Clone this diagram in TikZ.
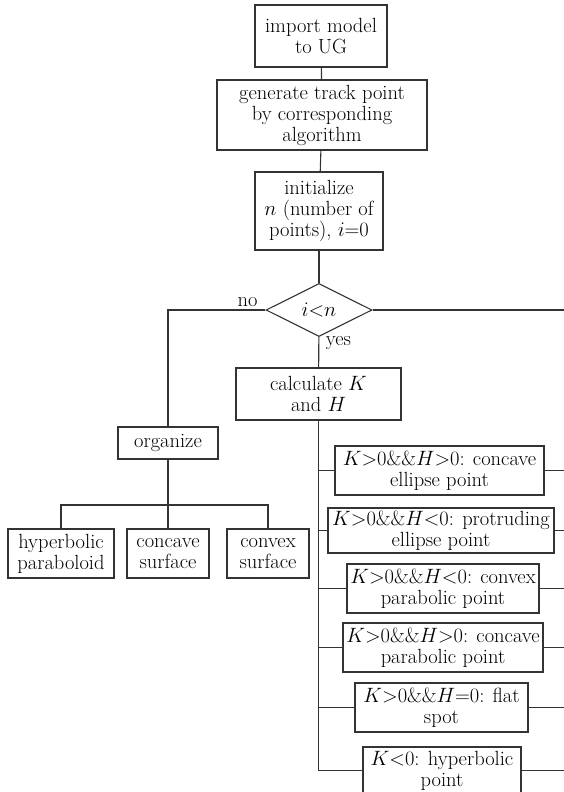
\documentclass[tikz,border=0pt]{standalone}
\usepackage{tikz}
\usetikzlibrary{positioning,shapes.geometric}
\usepackage{amsmath}

\begin{document}
\begin{tikzpicture}[x=1pt,y=-1pt,
  every path/.style={line width=1.1pt, color=black!80},
  box/.style={draw, align=center, inner sep=0pt, text=black,
    font=\fontsize{20.5}{21}\selectfont},
  lbl/.style={text=black, font=\fontsize{20.5}{21}\selectfont}]
\useasboundingbox (0,0) rectangle (564,792);

\node[box, minimum width=132, minimum height=62] (imp) at (321,36) {import model\\to UG};
\node[box, minimum width=210, minimum height=70] (gen) at (322,115) {generate track point\\by corresponding\\algorithm};
\node[box, minimum width=128, minimum height=78] (init) at (319,211) {initialize\\$n$ (number of\\points), $i$=0};
\node[draw, diamond, aspect=2, inner sep=0pt, minimum width=106, minimum height=53, text=black,
  font=\fontsize{20.5}{21}\selectfont] (dec) at (319,310) {$i$<$n$};
\node[box, minimum width=165, minimum height=52] (calc) at (318.5,394) {calculate $K$\\and $H$};
\node[box, minimum width=100, minimum height=32] (org) at (168,443) {organize};

% left leaves
\node[box, minimum width=106, minimum height=49] (hp) at (61,553.5) {hyperbolic\\paraboloid};
\node[box, minimum width=82, minimum height=49] (cs) at (168,553.5) {concave\\surface};
\node[box, minimum width=82, minimum height=49] (cv) at (268,553.5) {convex\\surface};

% right leaves
\node[box, minimum width=209, minimum height=49] (r1) at (439.5,470.5) {$K$>0\&\&$H$>0: concave\\ellipse point};
\node[box, minimum width=226, minimum height=45] (r2) at (441,530.5) {$K$>0\&\&$H$<0: protruding\\ellipse point};
\node[box, minimum width=192, minimum height=49] (r3) at (443,588.5) {$K$>0\&\&$H$<0: convex\\parabolic point};
\node[box, minimum width=200, minimum height=49] (r4) at (443,647.5) {$K$>0\&\&$H$>0: concave\\parabolic point};
\node[box, minimum width=173, minimum height=49] (r5) at (441.5,707.5) {$K$>0\&\&$H$=0: flat\\spot};
\node[box, minimum width=158, minimum height=47] (r6) at (442,770.5) {$K$<0: hyperbolic\\point};

\coordinate (rt) at (564,310);
\coordinate (jn) at (168,505);

\draw (imp) -- (gen);
\draw (gen) -- (init);
\draw (init) -- (dec);
\draw (dec) -- (calc);
\draw (dec.west) -| (org.north);
\draw (dec.east) -- (rt);
\node[lbl, anchor=south east] (no) at ([xshift=-4pt,yshift=-1pt]dec.west) {no};
\node[lbl, anchor=north west] (yes) at ([xshift=3pt,yshift=4pt]dec.south) {yes};

\draw (org) -- (cs);
\draw (hp.north) |- (jn) -| (cv.north);

\draw (calc.south) -- (calc.south |- r6.west);
\foreach \r in {r1,r2,r3,r4,r5,r6} {
  \draw (calc.south |- \r.west) -- (\r.west);
  \draw (\r.east) -- (\r.east -| rt);
}
\end{tikzpicture}
\end{document}
